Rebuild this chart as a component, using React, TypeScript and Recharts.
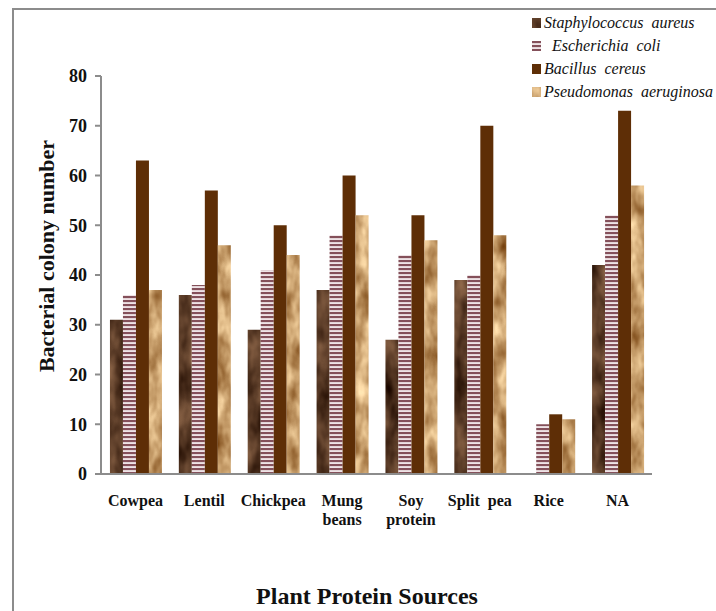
import { Bar, BarChart, XAxis, YAxis } from "recharts";

const categories = ["Cowpea", "Lentil", "Chickpea", "Mung\nbeans", "Soy\nprotein", "Split  pea", "Rice", "NA"];
const staph = [31, 36, 29, 37, 27, 39, 0, 42];
const ecoli = [36, 38, 41, 48, 44, 40, 10, 52];
const bacillus = [63, 57, 50, 60, 52, 70, 12, 73];
const pseudo = [37, 46, 44, 52, 47, 48, 11, 58];
const yTicks = [0, 10, 20, 30, 40, 50, 60, 70, 80];

const series = [
  { key: "staph", name: "Staphylococcus  aureus", fill: "url(#staphTex)", values: staph, indent: 0 },
  { key: "ecoli", name: "Escherichia  coli", fill: "url(#ecoliStripe)", values: ecoli, indent: 8 },
  { key: "bacillus", name: "Bacillus  cereus", fill: "#5e2e06", values: bacillus, indent: 0 },
  { key: "pseudo", name: "Pseudomonas  aeruginosa", fill: "url(#pseudoTex)", values: pseudo, indent: 0 }
];

const data = categories.map((cat, i) => {
  const row: Record<string, string | number> = { cat };
  series.forEach((s) => (row[s.key] = s.values[i]));
  return row;
});

const font = "Liberation Serif";

function Defs() {
  return (
    <svg width={0} height={0} style={{ position: "absolute" }}>
      <defs>
        <filter id="staphNoise" x="0" y="0" width="100%" height="100%" colorInterpolationFilters="sRGB">
          <feTurbulence type="fractalNoise" baseFrequency="0.06 0.03" numOctaves={3} seed={3} />
          <feColorMatrix type="matrix" values="0.6 0 0 0 0.05  0.5 0 0 0 -0.02  0.4 0 0 0 -0.05  0 0 0 0 1" />
        </filter>
        <filter id="pseudoNoise" x="0" y="0" width="100%" height="100%" colorInterpolationFilters="sRGB">
          <feTurbulence type="fractalNoise" baseFrequency="0.07 0.035" numOctaves={3} seed={7} />
          <feColorMatrix type="matrix" values="0.7 0 0 0 0.43  0.8 0 0 0 0.22  0.8 0 0 0 0.02  0 0 0 0 1" />
        </filter>
        <pattern id="staphTex" patternUnits="userSpaceOnUse" width={716} height={611}>
          <rect width={716} height={611} filter="url(#staphNoise)" />
        </pattern>
        <pattern id="pseudoTex" patternUnits="userSpaceOnUse" width={716} height={611}>
          <rect width={716} height={611} filter="url(#pseudoNoise)" />
        </pattern>
        <pattern id="ecoliStripe" patternUnits="userSpaceOnUse" width={10} height={4}>
          <rect width={10} height={4} fill="#eee3e6" />
          <rect width={10} height={2.1} fill="#84505a" />
        </pattern>
      </defs>
    </svg>
  );
}

function CatTick({ x, y, payload }: any) {
  const lines = String(payload.value).split("\n");
  return (
    <text x={x} y={y} textAnchor="middle" fontFamily={font} fontWeight="bold" fontSize={16} fill="#111" style={{ whiteSpace: "pre" }}>
      {lines.map((l, i) => (
        <tspan key={i} x={x} dy={i === 0 ? 24 : 19}>
          {l}
        </tspan>
      ))}
    </text>
  );
}

function LegendBox() {
  return (
    <div style={{ position: "absolute", left: 531, top: 11, fontFamily: font, fontStyle: "italic", fontSize: 16, color: "#111" }}>
      {series.map((s) => (
        <div key={s.key} style={{ display: "flex", alignItems: "center", height: 23, whiteSpace: "pre" }}>
          <svg width={11} height={10} style={{ marginRight: 2 + s.indent }}>
            <rect x={1} y={0} width={9} height={10} fill={s.fill} />
          </svg>
          <span>{s.name}</span>
        </div>
      ))}
    </div>
  );
}

export default function App() {
  return (
    <div style={{ position: "absolute", left: 0, top: 0, width: 716, height: 611, background: "#fff", overflow: "hidden" }}>
      <Defs />
      <div style={{ position: "absolute", left: 12, top: 8, width: 720, height: 620, borderLeft: "2px solid #8c8c8c", borderTop: "2px solid #8c8c8c" }} />
      <BarChart
        width={716}
        height={611}
        data={data}
        margin={{ top: 76, right: 64, left: 0, bottom: 77 }}
        barCategoryGap="13%"
        barGap={0}
        style={{ position: "absolute", left: 0, top: 0 }}
      >
        <XAxis
          dataKey="cat"
          height={60}
          interval={0}
          tick={<CatTick />}
          tickLine={false}
          axisLine={{ stroke: "#8c8c8c", strokeWidth: 2 }}
          label={() => (
            <text x={367} y={604} textAnchor="middle" fontFamily={font} fontWeight="bold" fontSize={24} fill="#111">
              Plant Protein Sources
            </text>
          )}
        />
        <YAxis
          width={101}
          domain={[0, 80]}
          ticks={yTicks}
          interval={0}
          tickSize={6}
          tickMargin={8}
          axisLine={{ stroke: "#8c8c8c", strokeWidth: 2 }}
          tickLine={{ stroke: "#8c8c8c", strokeWidth: 2 }}
          tick={{ fontFamily: font, fontWeight: "bold", fontSize: 18, fill: "#111" }}
          label={() => (
            <text x={54} y={256} transform="rotate(-90 54 256)" textAnchor="middle" fontFamily={font} fontWeight="bold" fontSize={22} fill="#111">
              Bacterial colony number
            </text>
          )}
        />
        {series.map((s) => (
          <Bar key={s.key} dataKey={s.key} name={s.name} fill={s.fill} isAnimationActive={false} />
        ))}
      </BarChart>
      <LegendBox />
    </div>
  );
}
